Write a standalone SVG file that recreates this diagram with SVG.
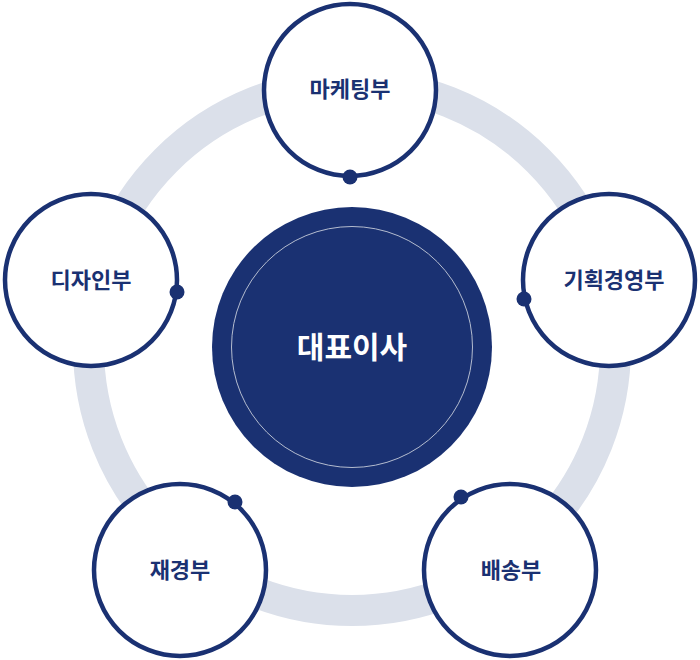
<svg xmlns="http://www.w3.org/2000/svg" width="700" height="660" viewBox="0 0 700 660">
<style>
.sat{fill:#ffffff;stroke:#1a3172;stroke-width:4.5}
.dot{fill:#1a3172}
.lbl{font-family:"Noto Sans CJK KR","Noto Sans",sans-serif;font-size:22px;font-weight:600;fill:#1a3172;text-anchor:middle}
.ceo{font-family:"Noto Sans CJK KR","Noto Sans",sans-serif;font-size:30px;font-weight:700;fill:#ffffff;text-anchor:middle}
</style>
<rect width="700" height="660" fill="#ffffff"/>
<g id="connectors">
<circle cx="352" cy="347" r="263.5" fill="none" stroke="#dbe0ea" stroke-width="31"/>
</g>
<g id="ceo">
<circle cx="352" cy="347" r="140" fill="#1a3172"/>
<circle cx="352" cy="347" r="120.5" fill="none" stroke="#b4bccf" stroke-width="1"/>
<text class="ceo" x="352" y="358">대표이사</text>
</g>
<g id="marketing">
<circle class="sat" cx="350" cy="90" r="86"/>
<circle class="dot" cx="350" cy="177" r="7.5"/>
<text class="lbl" x="350" y="97">마케팅부</text>
</g>
<g id="planning">
<circle class="sat" cx="609" cy="280" r="86"/>
<circle class="dot" cx="524" cy="299" r="7.5"/>
<text class="lbl" x="614" y="288">기획경영부</text>
</g>
<g id="delivery">
<circle class="sat" cx="510" cy="570" r="86"/>
<circle class="dot" cx="461" cy="497" r="7.5"/>
<text class="lbl" x="511" y="578">배송부</text>
</g>
<g id="finance">
<circle class="sat" cx="180" cy="570" r="86"/>
<circle class="dot" cx="235" cy="502" r="7.5"/>
<text class="lbl" x="180" y="578">재경부</text>
</g>
<g id="design">
<circle class="sat" cx="91" cy="280" r="86"/>
<circle class="dot" cx="177" cy="292" r="7.5"/>
<text class="lbl" x="91" y="288">디자인부</text>
</g>
</svg>
